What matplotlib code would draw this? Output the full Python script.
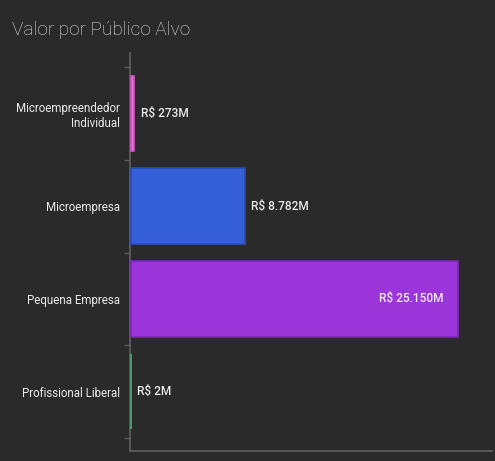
import matplotlib
matplotlib.use("Agg")
import matplotlib.pyplot as plt
import numpy as np

categories = ["Microempreendedor\nIndividual", "Microempresa", "Pequena Empresa", "Profissional Liberal"]
values = [273, 8782, 25150, 2]  # R$ milhões
value_labels = ["R$ 273M", "R$ 8.782M", "R$ 25.150M", "R$ 2M"]
colors = ["#e86ad9", "#345fd9", "#9b35d9", "#52a87a"]
edge_colors = ["#d058c2", "#2a4db3", "#7e27b5", "#52a87a"]

BG = "#2a2a2a"
TXT = "#ebebeb"
SPINE = "#5c5c5c"

plt.rcParams["font.family"] = ["Roboto", "DejaVu Sans"]

fig = plt.figure(figsize=(4.95, 4.61), dpi=100, facecolor=BG)
ax = fig.add_axes([0.2626, 0.021, 0.7313, 0.8634])
ax.set_facecolor(BG)

y = np.arange(len(categories))
ax.barh(y, values, height=0.81, color=colors, edgecolor=edge_colors, linewidth=1.2, zorder=3)

xmax = 27790
ax.set_xlim(-60, xmax)
ax.set_ylim(3.5 + 0.14, -0.5 - 0.145)

# category labels at centers (no tick marks), tick marks at band boundaries
ax.set_yticks(y)
ax.set_yticklabels(categories, color=TXT, fontsize=8.3)
ax.tick_params(axis="y", which="major", length=0, pad=7)
for lab in ax.get_yticklabels():
    lab.set_horizontalalignment("right")
    lab.set_multialignment("right")
ax.set_yticks(np.arange(-0.5, len(categories), 1.0), minor=True)
ax.tick_params(axis="y", which="minor", length=4, width=1, color=SPINE)
ax.set_xticks([])

for s in ["top", "right"]:
    ax.spines[s].set_visible(False)
for s in ["left", "bottom"]:
    ax.spines[s].set_color(SPINE)
    ax.spines[s].set_linewidth(1.3)

for yi, v, lbl in zip(y, values, value_labels):
    if v / xmax > 0.7:
        ax.annotate(lbl, xy=(v, yi), xytext=(-10, 0), textcoords="offset points",
                    ha="right", va="center", color="#f3ebf7", fontsize=8.6, fontweight="medium")
    else:
        ax.annotate(lbl, xy=(v, yi), xytext=(4.5, 0), textcoords="offset points",
                    ha="left", va="center", color=TXT, fontsize=8.6, fontweight="medium")

fig.text(12 / 495, 1 - 30 / 461, "Valor por Público Alvo", color="#e3e3e3",
         fontsize=13.7, fontweight="light", ha="left", va="center")

fig.savefig("out.png", dpi=100, facecolor=BG)
